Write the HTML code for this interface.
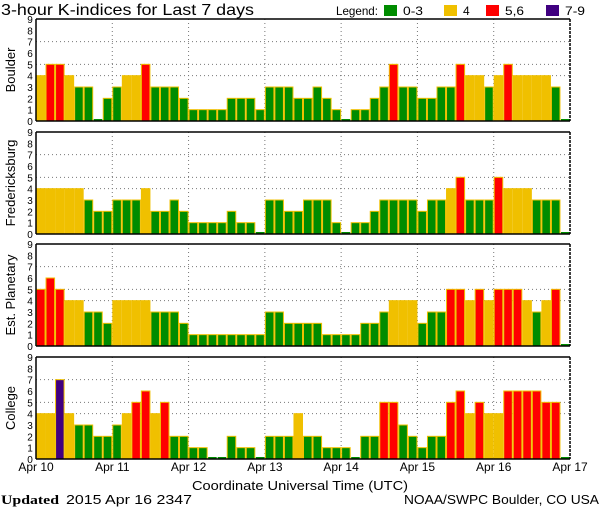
<!DOCTYPE html>
<html><head><meta charset="utf-8"><style>
html,body{margin:0;padding:0;background:#fff;}
svg{display:block;}
text{font-family:"Liberation Sans",sans-serif;fill:#000;}
</style></head><body>
<svg id="s" width="600" height="510" viewBox="0 0 600 510" xmlns="http://www.w3.org/2000/svg">
<rect width="600" height="510" fill="#fff"/>
<text x="1" y="15" font-size="16" textLength="253" lengthAdjust="spacingAndGlyphs">3-hour K-indices for Last 7 days</text>
<text x="336" y="15" font-size="12" textLength="42" lengthAdjust="spacingAndGlyphs">Legend:</text>
<rect x="384" y="5" width="13" height="11" fill="#008c00"/>
<text x="403" y="15" font-size="12" textLength="20" lengthAdjust="spacingAndGlyphs">0-3</text>
<rect x="444" y="5" width="13" height="11" fill="#f0c000"/>
<text x="463" y="15" font-size="12">4</text>
<rect x="486" y="5" width="13" height="11" fill="#ff0000"/>
<text x="505" y="15" font-size="12" textLength="19" lengthAdjust="spacingAndGlyphs">5,6</text>
<rect x="546" y="5" width="13" height="11" fill="#400080"/>
<text x="565" y="15" font-size="12" textLength="20" lengthAdjust="spacingAndGlyphs">7-9</text>
<g id="panels"></g>
<g font-size="12">
<text x="36" y="471" text-anchor="middle">Apr 10</text>
<text x="112.3" y="471" text-anchor="middle">Apr 11</text>
<text x="188.6" y="471" text-anchor="middle">Apr 12</text>
<text x="264.9" y="471" text-anchor="middle">Apr 13</text>
<text x="341.1" y="471" text-anchor="middle">Apr 14</text>
<text x="417.4" y="471" text-anchor="middle">Apr 15</text>
<text x="493.7" y="471" text-anchor="middle">Apr 16</text>
<text x="570" y="471" text-anchor="middle">Apr 17</text>
</g>
<text x="192" y="490" font-size="13" textLength="216" lengthAdjust="spacingAndGlyphs">Coordinate Universal Time (UTC)</text>
<text x="1" y="504" font-size="13" font-weight="bold" font-family="Liberation Serif,serif" style="font-family:'Liberation Serif',serif" textLength="58" lengthAdjust="spacingAndGlyphs">Updated</text>
<text x="66" y="504" font-size="13" textLength="126" lengthAdjust="spacingAndGlyphs">2015 Apr 16 2347</text>
<text x="404" y="504" font-size="13" textLength="195" lengthAdjust="spacingAndGlyphs">NOAA/SWPC Boulder, CO USA</text>
</svg>
<script>
var data=[
["Boulder",19,[4,5,5,4,3,3,0,2, 3,4,4,5,3,3,3,2, 1,1,1,1,2,2,2,1, 3,3,3,2,2,3,2,1, 0,1,1,2,3,5,3,3, 2,2,3,3,5,4,4,3, 4,5,4,4,4,4,3,0]],
["Fredericksburg",132,[4,4,4,4,4,3,2,2, 3,3,3,4,2,2,3,2, 1,1,1,1,2,1,1,0, 3,3,2,2,3,3,3,1, 0,1,1,2,3,3,3,3, 2,3,3,4,5,3,3,3, 5,4,4,4,3,3,3,0]],
["Est. Planetary",244,[5,6,5,4,4,3,3,2, 4,4,4,4,3,3,3,2, 1,1,1,1,1,1,1,1, 3,3,2,2,2,2,1,1, 1,1,2,2,3,4,4,4, 2,3,3,5,5,4,5,4, 5,5,5,4,3,4,5,0]],
["College",357,[4,4,7,4,3,3,2,2, 3,4,5,6,4,5,2,2, 1,1,0,0,2,1,1,0, 2,2,2,4,2,2,1,1, 1,0,2,2,5,5,3,2, 1,2,2,5,6,4,5,4, 4,6,6,6,6,5,5,0]]
];
var L=36,R=570,H=102,U=H/9,bw=(R-L)/56,s="";
function col(v){return v<=3?"#008c00":v==4?"#f0c000":v<=6?"#ff0000":"#400080";}
data.forEach(function(p){
 var t=p[1],b=t+H;
 s+='<rect x="'+L+'" y="'+t+'" width="'+(R-L)+'" height="'+H+'" fill="#fff"/>';
 [4,5,7].forEach(function(k){var y=b-k*U;s+='<line x1="'+L+'" x2="'+R+'" y1="'+y+'" y2="'+y+'" stroke="#777" stroke-dasharray="1,3"/>';});
 for(var d=1;d<7;d++){var x=L+d*8*bw;s+='<line x1="'+x+'" x2="'+x+'" y1="'+t+'" y2="'+b+'" stroke="#777" stroke-dasharray="1,3"/>';}
 p[2].forEach(function(v,i){
  var x=L+i*bw;
  if(v==0){s+='<rect x="'+(x+0.5)+'" y="'+(b-2)+'" width="'+(bw-1)+'" height="2" fill="#008c00"/>';}
  else{var h=v*U;s+='<rect x="'+(x+0.5)+'" y="'+(b-h)+'" width="'+(bw-1)+'" height="'+h+'" fill="'+col(v)+'" stroke="#f0c000" stroke-width="1"/>';}
 });
 s+='<line x1="'+L+'" x2="'+R+'" y1="'+t+'" y2="'+t+'" stroke="#000" stroke-width="1.5"/>';
 s+='<line x1="'+L+'" x2="'+R+'" y1="'+b+'" y2="'+b+'" stroke="#000" stroke-width="1.5"/>';
 s+='<line x1="'+L+'" x2="'+L+'" y1="'+t+'" y2="'+b+'" stroke="#000" stroke-width="1.5"/>';
 s+='<line x1="'+R+'" x2="'+R+'" y1="'+t+'" y2="'+b+'" stroke="#000" stroke-width="1.5" stroke-dasharray="3,1"/>';
 for(var k=0;k<=9;k++){s+='<text x="30" y="'+(b-k*U+4)+'" font-size="10" text-anchor="middle">'+k+'</text>';}
 var cy=t+H/2;
 s+='<text transform="translate(15,'+cy+') rotate(-90)" font-size="13" text-anchor="middle">'+p[0]+'</text>';
});
document.getElementById("panels").innerHTML=s;
</script>
</body></html>
